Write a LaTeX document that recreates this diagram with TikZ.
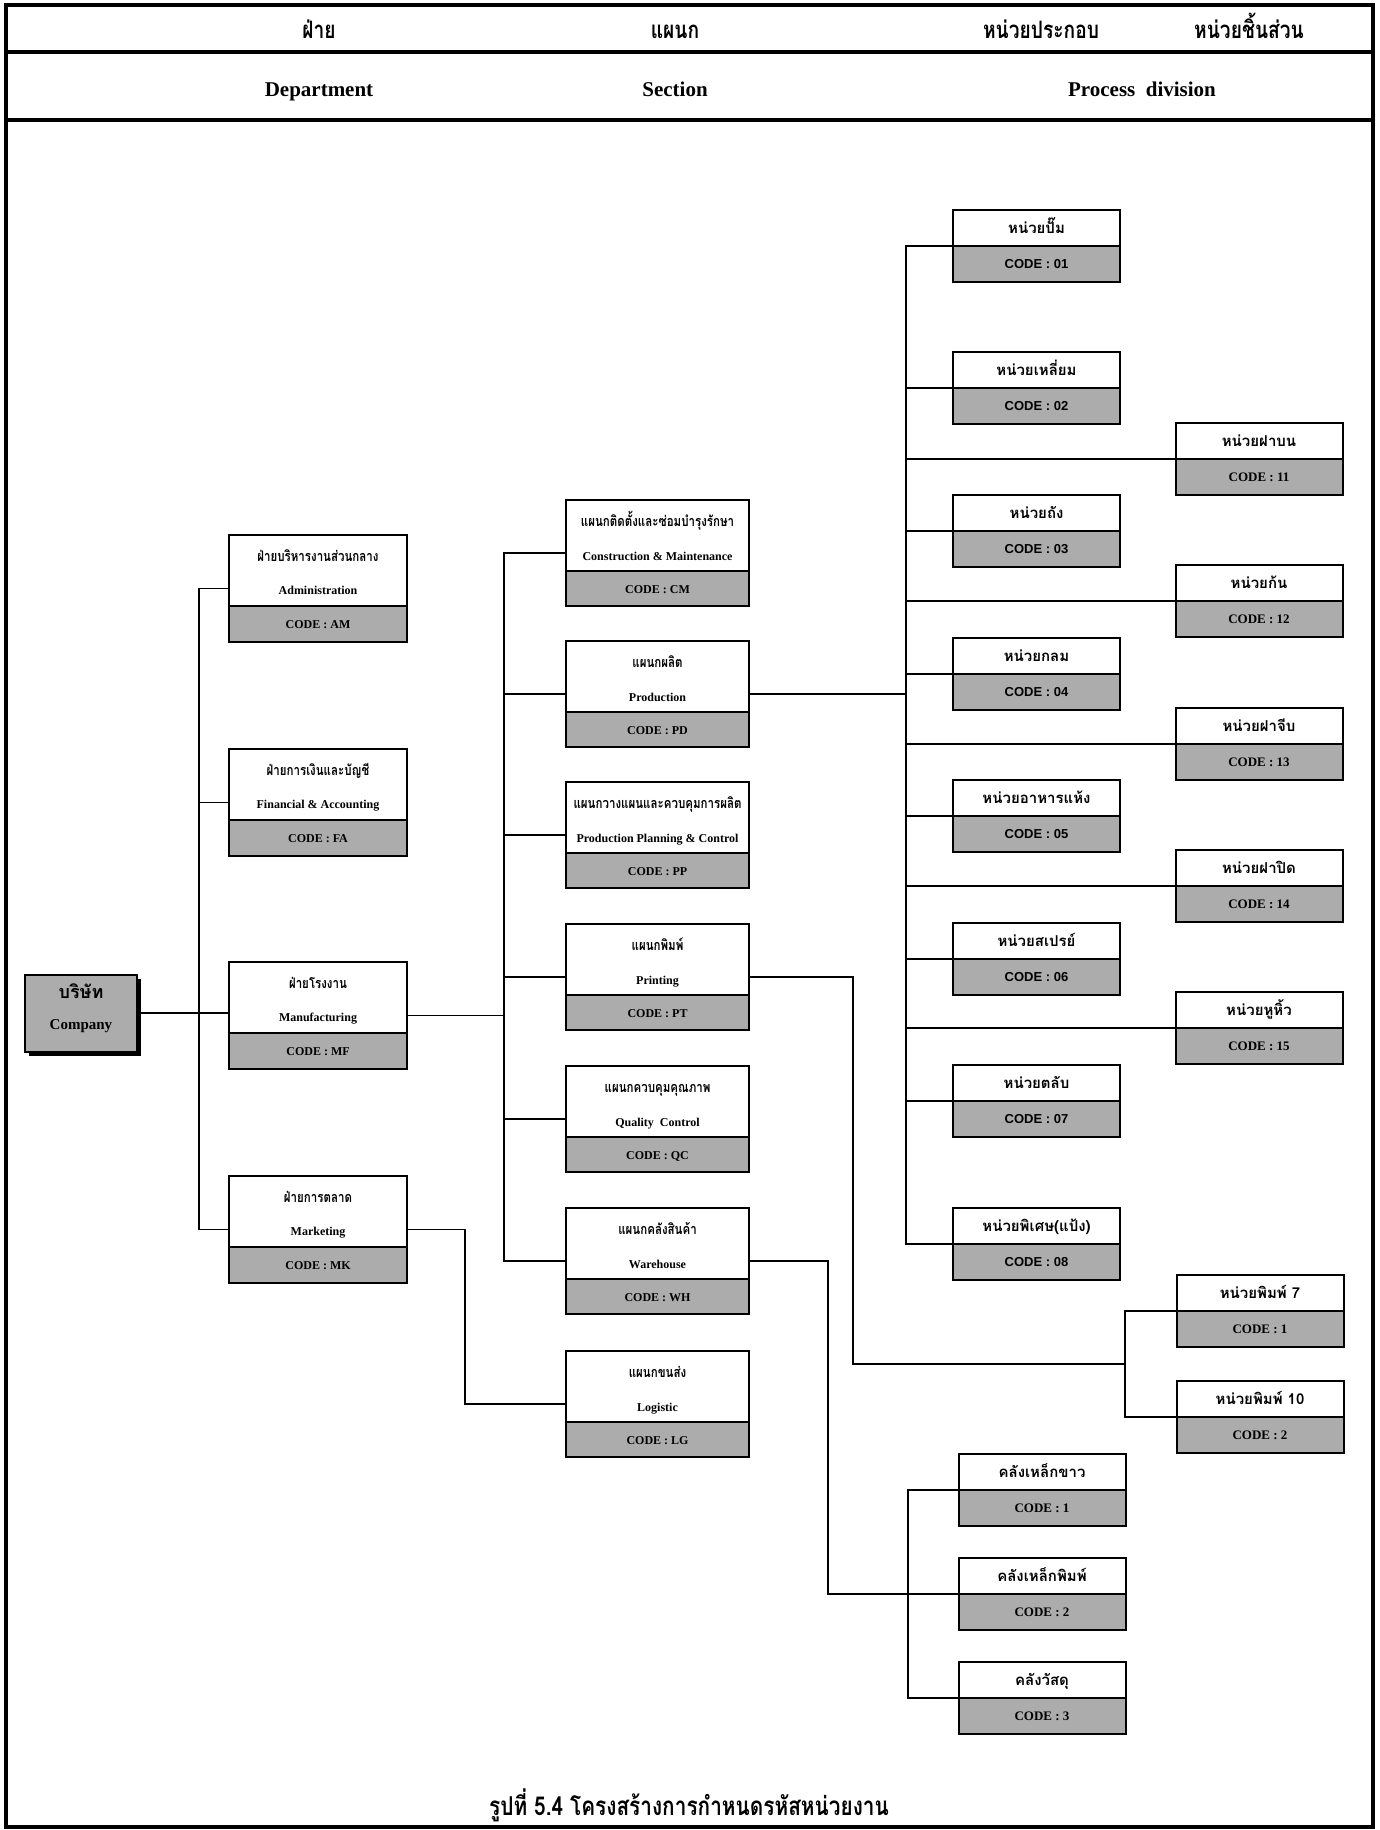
\documentclass[tikz,border=0pt]{standalone}
\usepackage{fontspec}
\setmainfont{Liberation Serif}
\newfontfamily\thaifont[Script=Thai]{Loma}
\newfontfamily\thaicond[Script=Thai,FakeStretch=0.8]{Loma}
\newfontfamily\codesans{Liberation Sans}
\usetikzlibrary{shadows,calc}
\definecolor{codegray}{RGB}{172,172,172}
\tikzset{
  box/.style={draw, line width=1pt, inner sep=0pt, fill=white},
  lowerpart/.style={path picture={
      \fill[codegray] (path picture bounding box.south west) rectangle ([yshift=#1]path picture bounding box.south east);
      \draw[line width=1pt] ([yshift=#1]path picture bounding box.south west) -- ([yshift=#1]path picture bounding box.south east);}},
  deptbox/.style={box, lowerpart=18pt, minimum width=89pt, minimum height=53.5pt},
  secbox/.style={box, lowerpart=17.5pt, minimum width=91.5pt, minimum height=53pt},
  unitbox/.style={box, lowerpart=18pt, minimum width=83.5pt, minimum height=36pt},
  compbox/.style={draw, line width=1pt, fill=codegray, minimum width=56pt, minimum height=38.5pt,
      drop shadow={shadow xshift=2pt, shadow yshift=-2pt, fill=black, opacity=1}},
  txt/.style={inner sep=0pt, text height=0.7em, text depth=0.25em},
  th/.style={txt, font=\thaicond\bfseries\fontsize{7.2}{8}\selectfont},
  en/.style={txt, font=\bfseries\fontsize{6}{7}\selectfont},
  uth/.style={txt, font=\thaifont\bfseries\fontsize{7.5}{8}\selectfont},
  ucode/.style={txt, font=\codesans\bfseries\fontsize{6.5}{8}\selectfont},
  pcode/.style={txt, font=\bfseries\fontsize{6.5}{8}\selectfont},
  hth/.style={txt, font=\thaicond\bfseries\fontsize{12}{13}\selectfont},
  hen/.style={txt, font=\bfseries\fontsize{10.5}{12}\selectfont},
  conn/.style={line width=0.8pt},
  frame/.style={line width=1.6pt},
}
\begin{document}
\begin{tikzpicture}[x=0.5pt,y=-0.5pt]
\useasboundingbox (0,0) rectangle (1380,1830);
\fill[white] (0,0) rectangle (1380,1830);
% frame and header
\draw[frame] (6,5) rectangle (1373,1827);
\draw[frame] (6,52) -- (1373,52);
\draw[frame] (6,120) -- (1373,120);
\node[hth] (h1) at (319,34) {ฝ่าย};
\node[hth] (h2) at (675,34) {แผนก};
\node[hth] (h3) at (1041,34) {หน่วยประกอบ};
\node[hth] (h4) at (1249,34) {หน่วยชิ้นส่วน};
\node[hen] (e1) at (319,92) {Department};
\node[hen] (e2) at (675,92) {Section};
\node[hen] (e3) at (1142,92) {Process\ \ division};

% company
\node[compbox] (comp) at (81,1013) {};
\node[txt, font=\thaifont\bfseries\fontsize{9}{10}\selectfont] (compth) at (81,994) {บริษัท};
\node[txt, font=\bfseries\fontsize{7.5}{9}\selectfont] (compen) at (81,1025) {Company};

% departments
\node[deptbox] (am) at (318,588.5) {};
\node[th] (amth) at (318,557) {ฝ่ายบริหารงานส่วนกลาง};
\node[en] (amen) at (318,590) {Administration};
\node[en] (amc) at (318,624) {CODE : AM};
\node[deptbox] (fa) at (318,802.5) {};
\node[th] (fath) at (318,771) {ฝ่ายการเงินและบัญชี};
\node[en] (faen) at (318,804) {Financial \& Accounting};
\node[en] (fac) at (318,838) {CODE : FA};
\node[deptbox] (mf) at (318,1015.5) {};
\node[th] (mfth) at (318,984) {ฝ่ายโรงงาน};
\node[en] (mfen) at (318,1017) {Manufacturing};
\node[en] (mfc) at (318,1051) {CODE : MF};
\node[deptbox] (mk) at (318,1229.5) {};
\node[th] (mkth) at (318,1198) {ฝ่ายการตลาด};
\node[en] (mken) at (318,1231) {Marketing};
\node[en] (mkc) at (318,1265) {CODE : MK};

% sections
\node[secbox] (cm) at (657.5,553) {};
\node[th] (cmth) at (657.5,522) {แผนกติดตั้งและซ่อมบำรุงรักษา};
\node[en] (cmen) at (657.5,556) {Construction \& Maintenance};
\node[en] (cmc) at (657.5,588.5) {CODE : CM};
\node[secbox] (pd) at (657.5,694) {};
\node[th] (pdth) at (657.5,663) {แผนกผลิต};
\node[en] (pden) at (657.5,697) {Production};
\node[en] (pdc) at (657.5,729.5) {CODE : PD};
\node[secbox] (pp) at (657.5,835) {};
\node[th] (ppth) at (657.5,804) {แผนกวางแผนและควบคุมการผลิต};
\node[en] (ppen) at (657.5,838) {Production Planning \& Control};
\node[en] (ppc) at (657.5,870.5) {CODE : PP};
\node[secbox] (pt) at (657.5,977) {};
\node[th] (ptth) at (657.5,946) {แผนกพิมพ์};
\node[en] (pten) at (657.5,980) {Printing};
\node[en] (ptc) at (657.5,1012.5) {CODE : PT};
\node[secbox] (qc) at (657.5,1119) {};
\node[th] (qcth) at (657.5,1088) {แผนกควบคุมคุณภาพ};
\node[en] (qcen) at (657.5,1122) {Quality\ \ Control};
\node[en] (qcc) at (657.5,1154.5) {CODE : QC};
\node[secbox] (wh) at (657.5,1261) {};
\node[th] (whth) at (657.5,1230) {แผนกคลังสินค้า};
\node[en] (when) at (657.5,1264) {Warehouse};
\node[en] (whc) at (657.5,1296.5) {CODE : WH};
\node[secbox] (lg) at (657.5,1404) {};
\node[th] (lgth) at (657.5,1373) {แผนกขนส่ง};
\node[en] (lgen) at (657.5,1407) {Logistic};
\node[en] (lgc) at (657.5,1439.5) {CODE : LG};

% units (process division)
\foreach \nm/\yy/\tt/\cc in {u1/246/หน่วยปั๊ม/01, u2/388/หน่วยเหลี่ยม/02, u3/531/หน่วยถัง/03, u4/674/หน่วยกลม/04, u5/816/หน่วยอาหารแห้ง/05, u6/959/หน่วยสเปรย์/06, u7/1101/หน่วยตลับ/07, u8/1244/หน่วยพิเศษ(แป้ง)/08}{
  \node[unitbox] (\nm) at (1036.5,\yy) {};
  \node[uth] (\nm t) at (1036.5,\yy-17) {\tt};
  \node[ucode] (\nm c) at (1036.5,\yy+18) {CODE : \cc};
}
% parts
\foreach \nm/\yy/\tt/\cc in {p1/459/หน่วยฝาบน/11, p2/601/หน่วยก้น/12, p3/744/หน่วยฝาจีบ/13, p4/886/หน่วยฝาปิด/14, p5/1028/หน่วยหูหิ้ว/15}{
  \node[unitbox] (\nm) at (1259,\yy) {};
  \node[uth] (\nm t) at (1259,\yy-17) {\tt};
  \node[pcode] (\nm c) at (1259,\yy+18) {CODE : \cc};
}
% printing units
\foreach \nm/\yy/\tt/\cc in {r1/1311/หน่วยพิมพ์ 7/1, r2/1417/หน่วยพิมพ์ 10/2}{
  \node[unitbox] (\nm) at (1260,\yy) {};
  \node[uth] (\nm t) at (1260,\yy-17) {\tt};
  \node[pcode] (\nm c) at (1260,\yy+18) {CODE : \cc};
}
% storage
\foreach \nm/\yy/\tt/\cc in {s1/1490/คลังเหล็กขาว/1, s2/1594/คลังเหล็กพิมพ์/2, s3/1698/คลังวัสดุ/3}{
  \node[unitbox] (\nm) at (1042,\yy) {};
  \node[uth] (\nm t) at (1042,\yy-17) {\tt};
  \node[pcode] (\nm c) at (1042,\yy+18) {CODE : \cc};
}

% trunk coordinates
\coordinate (dtr) at (199,0);
\coordinate (str) at (504,0);
\coordinate (mkturn) at (465,0);
\coordinate (utr) at (906,0);
\coordinate (ptturn) at (853,0);
\coordinate (prb) at (1125,0);
\coordinate (whturn) at (828,0);
\coordinate (sb) at (908,0);

% connectors: company -> departments
\draw[conn] (comp.east) -- (comp.east -| mf.west);
\draw[conn] (am.west) -- (am.west -| dtr) -- (mk.west -| dtr) -- (mk.west);
\draw[conn] (fa.west) -- (fa.west -| dtr);
% manufacturing -> sections
\draw[conn] (mf.east) -- (mf.east -| str);
\draw[conn] (cm.west) -- (cm.west -| str) -- (wh.west -| str) -- (wh.west);
\foreach \s in {pd,pp,pt,qc}{\draw[conn] (\s.west) -- (\s.west -| str);}
% marketing -> logistic
\draw[conn] (mk.east) -- (mk.east -| mkturn) -- (lg.west -| mkturn) -- (lg.west);
% production -> units and parts
\draw[conn] (pd.east) -- (pd.east -| utr);
\draw[conn] (u1.west) -- (u1.west -| utr) -- (u8.west -| utr) -- (u8.west);
\foreach \u in {u2,u3,u4,u5,u6,u7}{\draw[conn] (\u.west) -- (\u.west -| utr);}
\foreach \p in {p1,p2,p3,p4,p5}{\draw[conn] (\p.west) -- (\p.west -| utr);}
% printing -> printing units
\coordinate (prj) at ($(r1.west)!0.5!(r2.west)$);
\draw[conn] (pt.east) -- (pt.east -| ptturn) -- (prj -| ptturn) -- (prj -| prb);
\draw[conn] (r1.west) -- (r1.west -| prb) -- (r2.west -| prb) -- (r2.west);
% warehouse -> storage
\draw[conn] (wh.east) -- (wh.east -| whturn) -- (s2.west -| whturn) -- (s2.west);
\draw[conn] (s1.west) -- (s1.west -| sb) -- (s3.west -| sb) -- (s3.west);

% caption
\node[txt, font=\thaicond\bfseries\fontsize{13}{14}\selectfont] (cap) at (689,1811) {รูปที่ 5.4 โครงสร้างการกำหนดรหัสหน่วยงาน};
\end{tikzpicture}
\end{document}
